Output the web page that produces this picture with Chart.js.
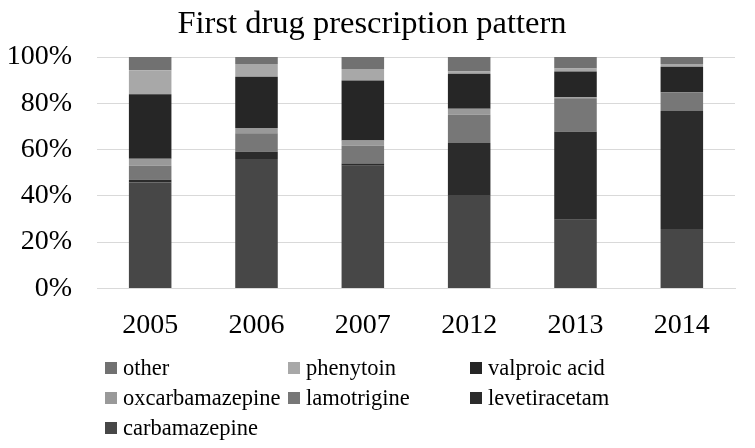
<!DOCTYPE html>
<html>
<head>
<meta charset="utf-8">
<script src="https://cdn.jsdelivr.net/npm/chart.js@4"></script>
<style>
  html, body { margin: 0; padding: 0; background: #fff; }
  #wrap { position: relative; width: 755px; height: 448px; }
  #legend {
    position: absolute; left: 105px; top: 353px;
    display: grid; grid-template-columns: 183px 182px 200px;
    grid-auto-rows: 30px;
    font-family: "Liberation Serif", serif; font-size: 22.5px; color: #000;
  }
  .item { display: flex; align-items: center; white-space: nowrap; }
  .box { width: 12px; height: 12px; margin-right: 6px; flex: none; }
</style>
</head>
<body>
<div id="wrap">
  <canvas id="chart" width="755" height="448"></canvas>
  <div id="legend"></div>
</div>
<script>
const years = ['2005', '2006', '2007', '2012', '2013', '2014'];

// percentages, bottom of the stack first
const carbamazepine   = [45.8, 55.9, 53.0, 40.4, 29.7, 25.7];
const levetiracetam   = [1.2, 3.2, 1.0, 22.4, 38.0, 51.0];
const lamotrigine     = [6.0, 8.0, 7.6, 12.2, 14.5, 8.1];
const oxcarbamazepine = [3.0, 2.2, 2.3, 2.6, 0.4, 0];
const valproicAcid    = [27.9, 22.2, 25.9, 15.2, 11.1, 11.0];
const phenytoin       = [10.4, 5.5, 5.0, 0.9, 1.3, 1.2];
const other           = [5.7, 3.0, 5.2, 6.3, 5.0, 3.0];

const yTicks = [0, 20, 40, 60, 80, 100];

const series = [
    ['carbamazepine', carbamazepine, '#474747'],
    ['levetiracetam', levetiracetam, '#2b2b2b'],
    ['lamotrigine', lamotrigine, '#777777'],
    ['oxcarbamazepine', oxcarbamazepine, '#999999'],
    ['valproic acid', valproicAcid, '#262626'],
    ['phenytoin', phenytoin, '#a8a8a8'],
    ['other', other, '#717171']
];

const serif = '"Liberation Serif", serif';

const chart = new Chart(document.getElementById('chart'), {
    type: 'bar',
    data: {
        labels: years,
        datasets: series.map(([label, data, color]) => ({
            label: label,
            data: data,
            backgroundColor: color,
            borderWidth: 0,
            barPercentage: 0.4,
            categoryPercentage: 1
        }))
    },
    options: {
        responsive: false,
        animation: false,
        layout: { padding: { left: 9, right: 20, top: 0, bottom: 86 } },
        plugins: {
            legend: { display: false },
            tooltip: { enabled: false },
            title: {
                display: true,
                text: 'First drug prescription pattern',
                color: '#000',
                font: { family: serif, size: 32.5, weight: 'normal' },
                padding: { top: 5, bottom: 13 }
            }
        },
        scales: {
            x: {
                stacked: true,
                grid: { display: false, drawTicks: false },
                border: { display: true, color: '#d9d9d9' },
                ticks: { color: '#000', padding: 20, font: { family: serif, size: 28 } }
            },
            y: {
                stacked: true,
                min: 0,
                max: 100,
                afterBuildTicks: axis => { axis.ticks = yTicks.map(v => ({ value: v })); },
                afterFit: axis => { axis.width = 88; },
                grid: { color: '#d9d9d9', drawTicks: false },
                border: { display: false },
                ticks: {
                    color: '#000',
                    padding: 25,
                    font: { family: serif, size: 28 },
                    callback: v => v + '%'
                }
            }
        }
    }
});

// legend laid out in a 3-column grid, top of the stack first
const legend = document.getElementById('legend');
for (const [label, , color] of series.slice().reverse()) {
    const item = document.createElement('div');
    item.className = 'item';
    item.innerHTML = `<span class="box" style="background:${color}"></span><span>${label}</span>`;
    legend.appendChild(item);
}
</script>
</body>
</html>
